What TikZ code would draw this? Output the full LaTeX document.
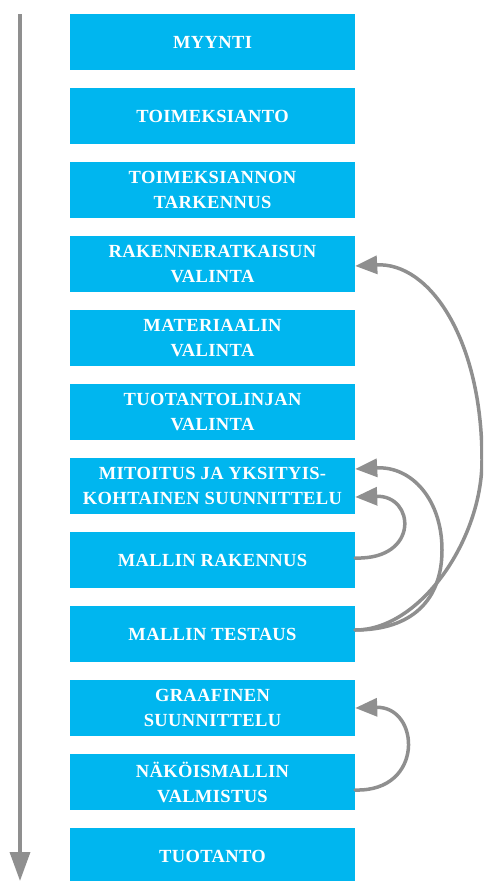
\documentclass[tikz,border=0pt]{standalone}
\usepackage{fontspec}
\setmainfont{Liberation Serif}
\usetikzlibrary{arrows.meta}
\definecolor{stepcyan}{RGB}{0,182,239}
\definecolor{flowgray}{RGB}{143,143,143}
\tikzset{
  phase/.style={fill=stepcyan, text=white, minimum width=285pt, minimum height=56pt,
    inner sep=0pt, align=center,
    font=\bfseries\fontsize{18.5}{25}\selectfont\addfontfeature{LetterSpace=2}},
  backarrow/.style={draw=flowgray, line width=3.5pt, line cap=round,
    -{Triangle[length=22pt,width=18pt]}},
  timeline/.style={draw=flowgray, line width=3.5pt,
    -{Triangle[length=29pt,width=20pt]}}
}
\begin{document}
\begin{tikzpicture}[x=1pt,y=-1pt]
\useasboundingbox (0,0) rectangle (483,881);
\clip (0,0) rectangle (483,881);

% process phases, top to bottom
\node[phase] (p1)  at (212.5,42)  {MYYNTI};
\node[phase] (p2)  at (212.5,116) {TOIMEKSIANTO};
\node[phase] (p3)  at (212.5,190) {TOIMEKSIANNON\\TARKENNUS};
\node[phase] (p4)  at (212.5,264) {RAKENNERATKAISUN\\VALINTA};
\node[phase] (p5)  at (212.5,338) {MATERIAALIN\\VALINTA};
\node[phase] (p6)  at (212.5,412) {TUOTANTOLINJAN\\VALINTA};
\node[phase] (p7)  at (212.5,486) {MITOITUS JA YKSITYIS-\\KOHTAINEN SUUNNITTELU};
\node[phase] (p8)  at (212.5,560) {MALLIN RAKENNUS};
\node[phase] (p9)  at (212.5,634) {MALLIN TESTAUS};
\node[phase] (p10) at (212.5,708) {GRAAFINEN\\SUUNNITTELU};
\node[phase] (p11) at (212.5,782) {NÄKÖISMALLIN\\VALMISTUS};
\node[phase] (p12) at (212.5,856) {TUOTANTO};

% time axis on the left
\coordinate (ttop) at (20,14);
\coordinate (tbot) at (20,881);
\draw[timeline] (ttop) -- (tbot);

% feedback loops on the right
\draw[backarrow] ([yshift=4pt]p9.east) .. controls (420,630) and (482,540) .. (482,460)
  .. controls (482,340) and (430,262) .. ([yshift=-2pt]p4.east);
\draw[backarrow] ([yshift=4pt]p9.east) .. controls (412,630) and (442,600) .. (442,550)
  .. controls (442,500) and (412,466) .. ([yshift=17pt]p7.east);
\draw[backarrow] ([yshift=2pt]p8.east) .. controls (420,560) and (415,495) .. ([yshift=-11pt]p7.east);
\draw[backarrow] ([yshift=-8pt]p11.east) .. controls (425,792) and (420,706) .. (p10.east);
\end{tikzpicture}
\end{document}
